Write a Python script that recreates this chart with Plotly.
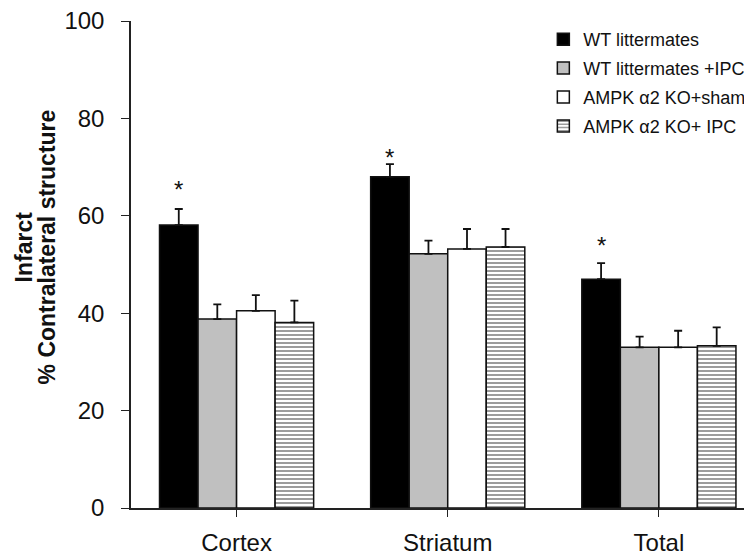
import plotly.graph_objects as go

categories = ["Cortex", "Striatum", "Total"]
series_names = ["WT littermates", "WT littermates +IPC", "AMPK \u03b12 KO+sham", "AMPK \u03b12 KO+ IPC"]
wt = [58.1, 68.0, 47.0]
wt_ipc = [38.8, 52.2, 33.0]
ko_sham = [40.5, 53.2, 33.0]
ko_ipc = [38.1, 53.6, 33.3]
wt_err = [3.3, 2.6, 3.3]
wt_ipc_err = [3.0, 2.7, 2.2]
ko_sham_err = [3.2, 4.1, 3.4]
ko_ipc_err = [4.5, 3.7, 3.8]
star_y = [65.5, 72.0, 54.0]

x = [0, 1, 2]
values = [wt, wt_ipc, ko_sham, ko_ipc]
errors = [wt_err, wt_ipc_err, ko_sham_err, ko_ipc_err]
fills = ["#000000", "#c0c0c0", "#ffffff", "#ffffff"]

FONT = "Liberation Sans, Arial"

fig = go.Figure()
for i, (name, v, e, c) in enumerate(zip(series_names, values, errors, fills)):
    marker = dict(color=c, line=dict(color="#111111", width=1.5))
    if i == 3:
        marker["pattern"] = dict(shape="-", size=4, solidity=0.45, fgcolor="#222222",
                                 bgcolor="#ffffff", fillmode="overlay")
    fig.add_trace(go.Bar(
        x=x, y=v, name=name, marker=marker, legendgroup=f"g{i}",
        error_y=dict(type="data", symmetric=False, array=e, arrayminus=[0] * len(e),
                     color="#111111", thickness=1.8, width=4),
    ))

# asterisks above WT bars
for xi, sy in zip(x, star_y):
    fig.add_annotation(x=xi, y=sy, xref="x", yref="y", text="*", showarrow=False,
                       xshift=-(211 * 0.73) * 3 / 8,
                       font=dict(size=24, color="#111111", family=FONT))

# two-line y-axis title
fig.add_annotation(x=-107 / 621, y=0.535, xref="paper", yref="paper", text="<b>Infarct</b>",
                   textangle=-90, showarrow=False, xanchor="center", yanchor="middle",
                   font=dict(size=23, color="#111111", family=FONT))
fig.add_annotation(x=-84 / 621, y=0.535, xref="paper", yref="paper",
                   text="<b>% Contralateral structure</b>",
                   textangle=-90, showarrow=False, xanchor="center", yanchor="middle",
                   font=dict(size=23, color="#111111", family=FONT))

fig.update_layout(
    width=752, height=560,
    margin=dict(l=123, r=8, t=13, b=60, autoexpand=False),
    paper_bgcolor="white", plot_bgcolor="white",
    barmode="group", bargap=0.27, bargroupgap=0,
    font=dict(family=FONT, color="#111111"),
    showlegend=True,
    legend=dict(x=0.664, y=1.0, xanchor="left", yanchor="top", traceorder="grouped",
                font=dict(size=18, color="#111111", family=FONT), bgcolor="rgba(0,0,0,0)",
                itemwidth=30, tracegroupgap=2.5),
    xaxis=dict(
        tickmode="array", tickvals=x, ticktext=categories, automargin=False,
        range=[-0.5, 2.441], showline=True, linecolor="#222222", linewidth=1.5,
        ticks="outside", tickson="boundaries", ticklen=7, tickcolor="#222222",
        tickfont=dict(size=24, color="#111111"), showgrid=False, zeroline=False,
        ticklabelstandoff=5, ticklabeloverflow="allow",
    ),
    yaxis=dict(
        range=[0, 100.01], tickvals=[0, 20, 40, 60, 80, 100], automargin=False,
        showline=True, linecolor="#222222", linewidth=1.5,
        ticks="outside", ticklen=8, tickcolor="#222222",
        tickfont=dict(size=24, color="#111111"), showgrid=False, zeroline=False,
        ticklabelstandoff=12, ticklabeloverflow="allow",
    ),
)

fig.write_html("out.html")
